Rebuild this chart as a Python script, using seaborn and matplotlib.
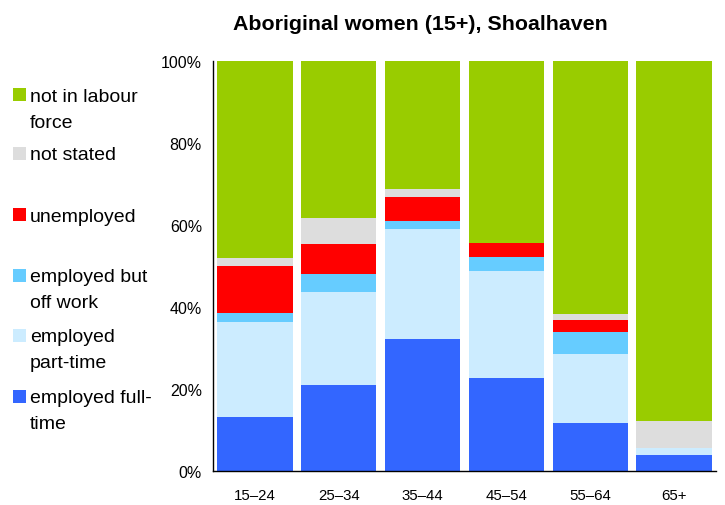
import numpy as np
import matplotlib
matplotlib.use("Agg")
import matplotlib.pyplot as plt
import seaborn as sns
from matplotlib.patches import Rectangle

# age groups
grupos = ["15–24", "25–34", "35–44", "45–54", "55–64", "65+"]

# percentages, bottom to top
full_time = [13.1, 20.9, 32.1, 22.6, 11.7, 3.9]
part_time = [23.2, 22.7, 26.8, 26.1, 16.9, 1.7]
off_work = [2.3, 4.4, 1.9, 3.4, 5.2, 0.0]
unemployed = [11.4, 7.2, 5.9, 3.4, 2.9, 0.0]
not_stated = [1.8, 6.4, 2.1, 0.0, 1.6, 6.6]
not_in_lf = [48.2, 38.4, 31.2, 44.5, 61.7, 87.8]

series = [
    ("employed full-\ntime", full_time, "#3366FF"),
    ("employed\npart-time", part_time, "#CCECFF"),
    ("employed but\noff work", off_work, "#66CCFF"),
    ("unemployed", unemployed, "#FF0000"),
    ("not stated", not_stated, "#DDDDDD"),
    ("not in labour\nforce", not_in_lf, "#99CC00"),
]

sns.set_style("white")
plt.rcParams['font.family'] = ['Liberation Sans', 'DejaVu Sans']
plt.rcParams['text.color'] = 'black'
plt.rcParams['xtick.color'] = 'black'
plt.rcParams['ytick.color'] = 'black'

fig = plt.figure(figsize=(7.25, 5.06), dpi=100)
ax = fig.add_axes([213 / 725, 1 - 472 / 506, (716 - 213) / 725, (472 - 61.5) / 506])

bottom = np.zeros(len(grupos))
for nombre, valores, color in series:
    sns.barplot(x=grupos, y=valores, bottom=bottom, color=color, width=0.9,
                saturation=1, ax=ax, edgecolor="none", linewidth=0)
    bottom += np.array(valores)

ax.set_xlim(-0.5, len(grupos) - 0.5)
ax.set_ylim(0, 100)
ax.set_yticks([0, 20, 40, 60, 80, 100])
ax.set_yticklabels([f"{v}%" for v in [0, 20, 40, 60, 80, 100]], fontsize=11.5)
ax.set_xticks(range(len(grupos)))
ax.set_xticklabels(grupos, fontsize=10.8)
ax.set_xticks(np.arange(-0.5, len(grupos)), minor=True)
ax.tick_params(axis="x", which="major", length=0, pad=12)
ax.tick_params(axis="x", which="minor", length=5, width=1, direction="out", color="black")
ax.tick_params(axis="y", length=4, width=1, direction="out", color="black", pad=4)
for lado in ["top", "right"]:
    ax.spines[lado].set_visible(False)
for lado in ["left", "bottom"]:
    ax.spines[lado].set_color("black")
    ax.spines[lado].set_linewidth(1)

fig.text(420 / 725, 1 - 25 / 506, "Aboriginal women (15+), Shoalhaven",
         ha="center", va="center", fontsize=15.4, fontweight="bold")

# legend drawn by hand, as in the original
leyenda_y = [95, 154, 215, 276, 336, 397]
for (nombre, valores, color), y in zip(series[::-1], leyenda_y):
    fig.patches.append(Rectangle((13 / 725, 1 - (y + 6.5) / 506), 13 / 725, 13 / 506,
                                 transform=fig.transFigure, facecolor=color, edgecolor="none"))
    for i, linea in enumerate(nombre.split("\n")):
        fig.text(30 / 725, 1 - (y + 6.5 + 26 * i) / 506, linea, ha="left",
                 va="baseline", fontsize=14)

plt.savefig("out.png", dpi=100)
